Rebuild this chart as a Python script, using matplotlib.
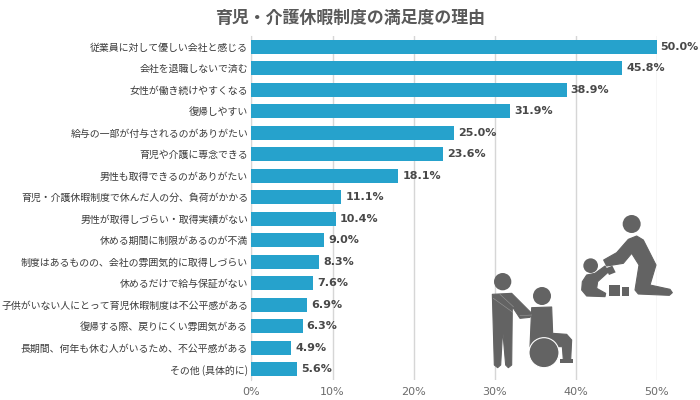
import matplotlib
matplotlib.use('Agg')
import matplotlib.pyplot as plt
from matplotlib.patches import Circle, Polygon, Rectangle
from matplotlib.transforms import ScaledTranslation

plt.rcParams['font.family'] = ['Noto Sans CJK JP', 'DejaVu Sans']

categories = ['従業員に対して優しい会社と感じる', '会社を退職しないで済む', '女性が働き続けやすくなる', '復帰しやすい',
              '給与の一部が付与されるのがありがたい', '育児や介護に専念できる', '男性も取得できるのがありがたい',
              '育児・介護休暇制度で休んだ人の分、負荷がかかる', '男性が取得しづらい・取得実績がない',
              '休める期間に制限があるのが不満', '制度はあるものの、会社の雰囲気的に取得しづらい',
              '休めるだけで給与保証がない', '子供がいない人にとって育児休暇制度は不公平感がある',
              '復帰する際、戻りにくい雰囲気がある', '長期間、何年も休む人がいるため、不公平感がある', 'その他 (具体的に)']
values = [50.0, 45.8, 38.9, 31.9, 25.0, 23.6, 18.1, 11.1, 10.4, 9.0, 8.3, 7.6, 6.9, 6.3, 4.9, 5.6]
ticks = [0, 10, 20, 30, 40, 50]
tick_labels = ['0%', '10%', '20%', '30%', '40%', '50%']
tick_shift_px = [4, 5, 5, 5, 6, 1]

W, H = 700, 400
BAR = '#26A2CC'
ICON = '#636363'

fig = plt.figure(figsize=(7, 4), dpi=100)
ax = fig.add_axes([251.5 / W, 1 - 380 / H, (656.5 - 251.5) / W, (380 - 36) / H])

y = list(range(len(values)))
ax.barh(y, values, height=0.65, color=BAR, zorder=3)
ax.set_ylim(len(values) - 0.5, -0.5)
ax.set_xlim(0, 50)

ax.set_yticks(y)
ax.set_yticklabels(categories, fontsize=7.14, color='#3a3a3a')
ax.set_xticks(ticks)
ax.set_xticklabels(tick_labels, fontsize=8, color='#6b6b6b', family='DejaVu Sans')
for lab, s in zip(ax.get_xticklabels(), tick_shift_px):
    lab.set_transform(lab.get_transform() + ScaledTranslation(s / 100, 0, fig.dpi_scale_trans))
ax.tick_params(axis='y', length=0, pad=2.5)
ax.tick_params(axis='x', length=0, pad=5)
ax.grid(axis='x', color='#d6d6d6', lw=1, zorder=0)
ax.set_axisbelow(True)
for name in ['top', 'right', 'bottom']:
    ax.spines[name].set_visible(False)
ax.spines['left'].set_color('#d6d6d6')

for i, v in enumerate(values):
    ax.annotate(f'{v:.1f}%', (v, i), xytext=(3, 0), textcoords='offset points', va='center',
                fontsize=8, fontweight='bold', color='#484848', family='DejaVu Sans',
                annotation_clip=False)

fig.text(350 / W, 1 - 18 / H, '育児・介護休暇制度の満足度の理由', ha='center', va='center',
         fontsize=12.2, fontweight='bold', color='#595959')

# icons, drawn in pixels of the picture
over = fig.add_axes([0, 0, 1, 1], zorder=5)
over.set_xlim(0, W)
over.set_ylim(H, 0)
over.axis('off')


def pts(zoomed, origin):
    return [(origin[0] + a / 3, origin[1] + b / 3) for a, b in zoomed]


def blob(zoomed, origin, lw=0.8):
    over.add_patch(Polygon(pts(zoomed, origin), closed=True, fc=ICON, ec=ICON if lw else 'none', lw=lw,
                           joinstyle='round'))


def dot(a, b, r, origin, ec='none', lw=0):
    over.add_patch(Circle(pts([(a, b)], origin)[0], r / 3, fc=ICON, ec=ec, lw=lw))


# adult with child
crop1 = (575, 210)
dot(170, 42, 27, crop1)
blob([(185, 78), (205, 90), (243, 165), (225, 225), (285, 238), (292, 248), (283, 256), (190, 252), (180, 240),
      (192, 165), (170, 130), (145, 160), (95, 168), (86, 150), (125, 128), (160, 88)], crop1)
dot(47, 167, 22, crop1)
blob([(22, 215), (35, 195), (60, 190), (90, 168), (100, 186), (68, 215), (65, 235), (92, 250), (90, 260), (35, 258),
      (20, 240)], crop1)
blob([(92, 175), (112, 167), (122, 187), (102, 195)], crop1, lw=0)
blob([(103, 226), (135, 226), (135, 258), (103, 258)], crop1, lw=0)
blob([(140, 232), (163, 232), (163, 258), (140, 258)], crop1, lw=0)

# carer and wheelchair
crop2 = (485, 265)
dot(53, 50, 26, crop2)
blob([(22, 88), (80, 85), (140, 145), (135, 157), (105, 160), (82, 125), (80, 300), (70, 308), (62, 300), (53, 195),
      (47, 300), (38, 308), (28, 300)], crop2)
dot(171, 93, 27, crop2)
blob([(140, 128), (200, 126), (203, 205), (245, 208), (260, 225), (257, 285), (235, 285), (232, 245), (135, 245)], crop2)
dot(177, 263, 45, crop2, ec='white', lw=0.8)
x0, y0 = pts([(224, 283)], crop2)[0]
over.add_patch(Rectangle((x0, y0), 39 / 3, 10 / 3, fc=ICON, ec='none'))
for line in [[(45, 88), (85, 125)], [(25, 100), (95, 150)], [(105, 152), (140, 150)]]:
    xs, ys = zip(*pts(line, crop2))
    over.plot(xs, ys, color='white', lw=0.4, alpha=0.35)

fig.savefig('out.png', dpi=100)
